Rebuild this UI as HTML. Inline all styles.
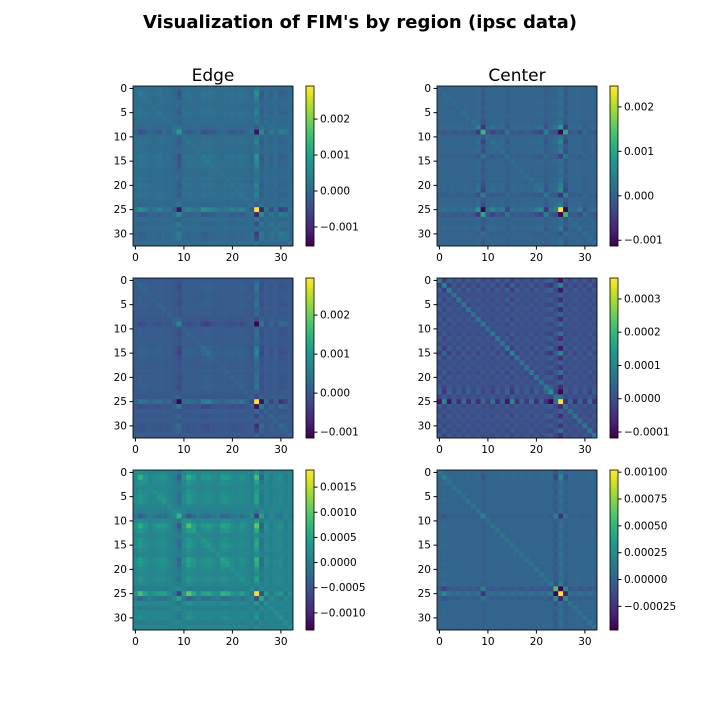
<!DOCTYPE html>
<html><head><meta charset="utf-8"><style>
body{margin:0;background:#fff;}
svg text{font-family:"DejaVu Sans","Liberation Sans",sans-serif;}
</style></head><body>
<svg id="chart" width="720" height="720" xmlns="http://www.w3.org/2000/svg">
<rect width="720" height="720" fill="#fff"/>
<text x="360" y="28" text-anchor="middle" font-size="18" font-weight="bold">Visualization of FIM's by region (ipsc data)</text>
<text x="213" y="81" text-anchor="middle" font-size="17">Edge</text>
<text x="517" y="81" text-anchor="middle" font-size="17">Center</text>
</svg>
<script>
const N = 33;
// per-panel row/column profiles (estimated from reference)
const edge1Profile = [0.1,0.3,0.2,0.05,0.1,0.2,0.05,0.1,-0.1,-0.55,0.1,0.2,0.1,0.05,0.3,0.25,0.2,0.1,0.05,0.1,0.2,0.1,0.2,0.05,-0.1,1,-0.45,0.1,-0.2,0.05,-0.3,-0.2,0.05];
const edge2Profile = [0.05,0.2,0.15,0.05,0.1,0.15,0.05,0.1,-0.1,-0.5,0.1,0.15,0.1,0.05,0.25,0.3,0.15,0.1,0.05,0.1,0.15,0.1,0.2,0.05,-0.1,1,-0.4,0.1,-0.15,0.05,-0.25,-0.15,0.05];
const edge3Profile = [0.2,0.6,0.3,0.1,0.2,0.3,0.3,0.1,-0.1,-0.6,0.2,0.7,0.4,0.1,0.3,0.35,0.2,0.1,0.45,0.4,0.2,0.1,0.3,0.1,-0.1,1,-0.5,0.2,-0.1,0.1,0.2,-0.1,0.1];
const center1Profile = [0.05,0.1,0.05,0.1,0.05,0.1,0.05,0.1,0.4,-0.7,0.1,0.3,0.1,0.2,-0.2,0.1,0.05,0.1,0.05,0.1,0.2,0.3,-0.3,0.1,0.2,1,-0.7,0.1,0.05,0.2,-0.1,0.05,0.1];
const center2Profile = [-0.3,0.35,-0.3,0.1,-0.2,0.15,-0.2,0.1,-0.2,0.15,-0.1,0.2,-0.2,0.1,-0.3,0.35,-0.2,0.1,-0.15,0.2,-0.2,0.1,-0.2,-0.45,0.2,1,-0.2,0.1,-0.2,0.1,-0.15,0.2,-0.2];
const center3Profile = [0.1,0.3,0.1,0.05,0.1,0.05,0.1,0.05,0.1,-0.3,0.05,0.1,0.05,0.1,0.05,0.1,0.05,0.1,0.05,0.1,0.05,0.1,0.05,0.2,-0.7,1,-0.4,0.1,0.05,0.1,0.05,0.1,0.05];
const profiles = [edge1Profile, center1Profile, edge2Profile, center2Profile, edge3Profile, center3Profile];
const amplitudes = [0.0029, 0.0024, 0.0029, 0.00036, 0.0016, 0.001];
const baselines = [0, 0, 0, 0, 0.00008, 0];
const diagBoost = [0.0001, 0.0001, 0.0001, 0.00006, 0.0001, 0.0001];
const vmins = [-0.00153, -0.00113, -0.00115, -0.000118, -0.00134, -0.00047];
const vmaxs = [0.00292, 0.00247, 0.00295, 0.000363, 0.00184, 0.00102];
const cbTicks = [[-0.001,0,0.001,0.002],[-0.001,0,0.001,0.002],[-0.001,0,0.001,0.002],[-0.0001,0,0.0001,0.0002,0.0003],[-0.001,-0.0005,0,0.0005,0.001,0.0015],[-0.00025,0,0.00025,0.0005,0.00075,0.001]];
const cbLabels = [["−0.001","0.000","0.001","0.002"],["−0.001","0.000","0.001","0.002"],["−0.001","0.000","0.001","0.002"],["−0.0001","0.0000","0.0001","0.0002","0.0003"],["−0.0010","−0.0005","0.0000","0.0005","0.0010","0.0015"],["−0.00025","0.00000","0.00025","0.00050","0.00075","0.00100"]];
const axisTicks = [0,10,20,30];
const yTicks = [0,5,10,15,20,25,30];
const panelNames = ["edge-1","center-1","edge-2","center-2","edge-3","center-3"];

const V = [[68,1,84],[72,40,120],[62,74,137],[49,104,142],[38,130,142],[31,158,137],[53,183,121],[109,205,89],[180,222,44],[253,231,37]];
function viridis(t){t=Math.max(0,Math.min(1,t));const s=t*9,i=Math.min(8,Math.floor(s)),f=s-i;const a=V[i],b=V[i+1];return `rgb(${a.map((c,k)=>Math.round(c+(b[k]-c)*f)).join(',')})`;}
const svg=document.getElementById('chart');const NS='http://www.w3.org/2000/svg';
function el(tag,attrs,parent){const e=document.createElementNS(NS,tag);for(const k in attrs)e.setAttribute(k,attrs[k]);(parent||svg).appendChild(e);return e;}
const W=160,cell=W/N;
for(let p=0;p<6;p++){
  const x0=p%2===0?133:437, y0=86+Math.floor(p/2)*192, cbx=x0+173;
  const g=el('g',{});
  
  
  const pr=profiles[p],vmin=vmins[p],vmax=vmaxs[p];
  const xs=i=>x0+i*cell, ys=i=>y0+i*cell;
  for(let i=0;i<N;i++)for(let j=0;j<N;j++){
    let v=baselines[p]+amplitudes[p]*pr[i]*pr[j]*(i===j?1:0.85)+(i===j?diagBoost[p]:0);
    const r=el('rect',{x:xs(j).toFixed(2),y:ys(i).toFixed(2),width:(cell+0.3).toFixed(2),height:(cell+0.3).toFixed(2),fill:viridis((v-vmin)/(vmax-vmin))},g);
    
    
  }
  el('rect',{x:x0,y:y0,width:W,height:W,fill:'none',stroke:'#000','stroke-width':0.8},g);
  axisTicks.forEach(t=>{const x=xs(t)+cell/2;el('line',{x1:x,x2:x,y1:y0+W,y2:y0+W+3.5,stroke:'#000'},g);const tx=el('text',{x:x,y:y0+W+15,'text-anchor':'middle','font-size':10.5},g);tx.textContent=t;});
  yTicks.forEach(t=>{const y=ys(t)+cell/2;el('line',{x1:x0-3.5,x2:x0,y1:y,y2:y,stroke:'#000'},g);const tx=el('text',{x:x0-6,y:y+3.5,'text-anchor':'end','font-size':10.5},g);tx.textContent=t;});
  const cb=el('g',{});
  
  
  for(let k=0;k<80;k++){el('rect',{x:cbx,y:y0+W-(k+1)*2,width:8,height:2.3,fill:viridis(k/79)},cb);}
  el('rect',{x:cbx,y:y0,width:8,height:W,fill:'none',stroke:'#000','stroke-width':0.8},cb);
  cbTicks[p].forEach((t,k)=>{const y=y0+W-(t-vmin)/(vmax-vmin)*W;el('line',{x1:cbx+8,x2:cbx+11.5,y1:y,y2:y,stroke:'#000'},cb);const tx=el('text',{x:cbx+14,y:y+3.5,'font-size':10.5},cb);tx.textContent=cbLabels[p][k];});
}
</script>
</body></html>
